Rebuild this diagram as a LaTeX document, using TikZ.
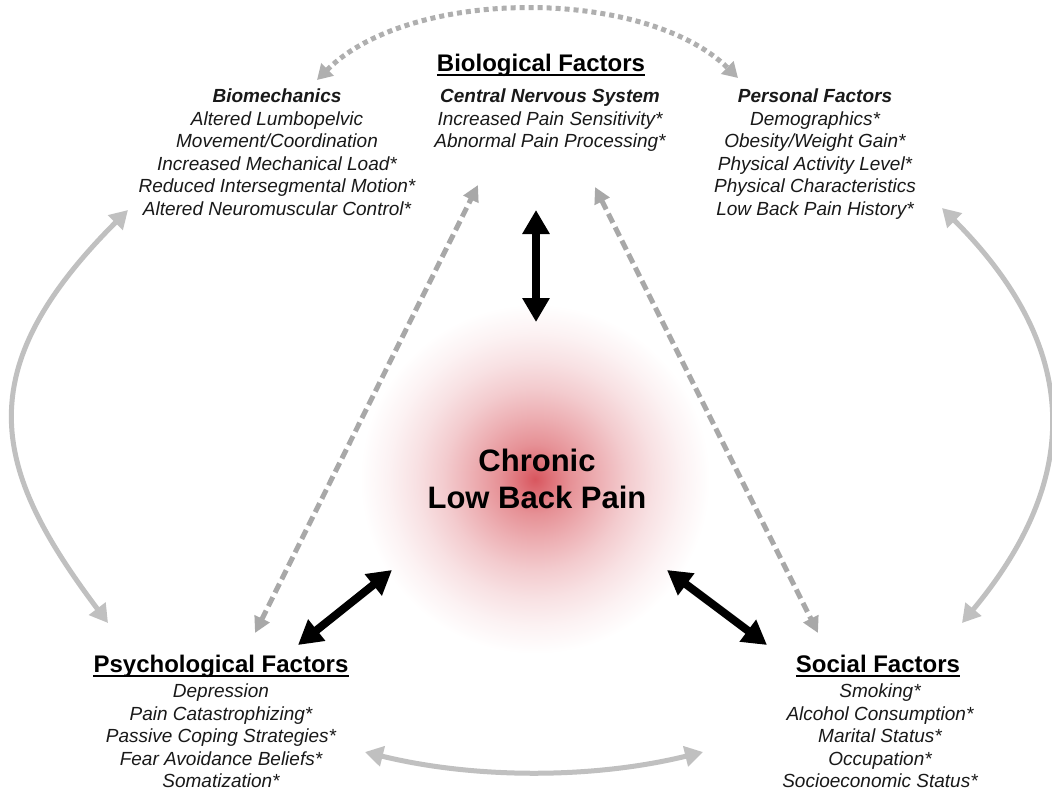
\documentclass[tikz,border=0pt]{standalone}
\usepackage{fontspec}
\setmainfont{Liberation Sans}
\usetikzlibrary{arrows.meta}
\definecolor{g0}{RGB}{216,86,94}
\definecolor{g1}{RGB}{222,110,117}
\definecolor{g2}{RGB}{230,145,150}
\definecolor{g3}{RGB}{237,175,179}
\definecolor{g4}{RGB}{243,203,206}
\definecolor{g5}{RGB}{248,225,227}
\definecolor{g6}{RGB}{252,242,243}
\definecolor{arcgray}{RGB}{192,192,192}
\definecolor{dashgray}{RGB}{168,168,168}
\definecolor{dotgray}{RGB}{175,175,175}
\pgfdeclareradialshading{glow}{\pgfpoint{0bp}{0bp}}{color(0bp)=(g0); color(2bp)=(g1); color(5bp)=(g2); color(9bp)=(g3); color(13bp)=(g4); color(17bp)=(g5); color(21bp)=(g6); color(25bp)=(white); color(50bp)=(white)}
\begin{document}
\begin{tikzpicture}[x=1pt,y=-1pt,
  item/.style={font=\fontsize{19}{22.5}\selectfont\itshape, align=center, inner sep=0pt, anchor=north, text=black!90},
  title/.style={font=\fontsize{24}{28}\selectfont\bfseries, inner sep=0pt, anchor=base},
  core/.style={font=\fontsize{31}{37}\selectfont\bfseries, align=center, inner sep=0pt},
  uline/.style={line width=2pt, black},
  blackarr/.style={{Triangle[width=26pt,length=24pt]}-{Triangle[width=26pt,length=24pt]}, line width=8pt, black},
  grayarr/.style={{Triangle[width=20pt,length=18pt]}-{Triangle[width=20pt,length=18pt]}, line width=5pt, arcgray},
  dasharr/.style={{Triangle[width=16pt,length=16pt]}-{Triangle[width=16pt,length=16pt]}, line width=5pt, dashgray, dash pattern=on 10pt off 5pt},
  dotarr/.style={{Triangle[width=17pt,length=15pt]}-{Triangle[width=17pt,length=15pt]}, line width=5pt, dotgray, dash pattern=on 5pt off 4pt}
]
\useasboundingbox[fill=white] (0,0) rectangle (1052,792);

% glow
\shade[shading=glow] (535,479) circle (175pt);

% titles
\node[title] (bio) at (541,72) {Biological Factors};
\node[title] (psy) at (221,672) {Psychological Factors};
\node[title] (soc) at (878,672) {Social Factors};
\foreach \t in {bio,psy,soc}
  \draw[uline] ([yshift=-3.5pt]\t.base west) -- ([yshift=-3.5pt]\t.base east);

% item blocks
\node[item] (biomech) at (277,89) {{\bfseries Biomechanics}\\Altered Lumbopelvic\\Movement/Coordination\\Increased Mechanical Load*\\Reduced Intersegmental Motion*\\Altered Neuromuscular Control*};
\node[item] (cns) at (550,89) {{\bfseries Central Nervous System}\\Increased Pain Sensitivity*\\Abnormal Pain Processing*};
\node[item] (pers) at (815,89) {{\bfseries Personal Factors}\\Demographics*\\Obesity/Weight Gain*\\Physical Activity Level*\\Physical Characteristics\\Low Back Pain History*};
\node[item] (psyitems) at (221,684) {Depression\\Pain Catastrophizing*\\Passive Coping Strategies*\\Fear Avoidance Beliefs*\\Somatization*};
\node[item] (socitems) at (880,684) {Smoking*\\Alcohol Consumption*\\Marital Status*\\Occupation*\\Socioeconomic Status*};

% core
\node[core] (core) at (537,479) {Chronic\\Low Back Pain};

% arrow end points
\coordinate (vt) at (536,210);
\coordinate (vb) at (536,322);
\coordinate (llA) at (298,645);
\coordinate (llB) at (392,570);
\coordinate (lrA) at (667,570);
\coordinate (lrB) at (767,645);
\coordinate (dlB) at (255,633);
\coordinate (dlT) at (478,185);
\coordinate (drT) at (595,187);
\coordinate (drB) at (818,633);
\coordinate (laT) at (128,210);
\coordinate (laB) at (108,623);
\coordinate (raT) at (942,208);
\coordinate (raB) at (962,623);
\coordinate (bL) at (365,752);
\coordinate (bR) at (703,752);
\coordinate (tL) at (317,80);
\coordinate (tR) at (738,78);

% black arrows
\draw[blackarr] (vt) -- (vb);
\draw[blackarr] (llA) -- (llB);
\draw[blackarr] (lrA) -- (lrB);

% dashed arrows
\draw[dasharr] (dlB) -- (dlT);
\draw[dasharr] (drT) -- (drB);

% gray arcs
\draw[grayarr] (laT) .. controls (-34,372) and (-7,470) .. (laB);
\draw[grayarr] (raT) .. controls (1090,356) and (1075,487) .. (raB);
\draw[grayarr] (bL) .. controls (475,779) and (593,779) .. (bR);

% dotted top arc
\draw[dotarr] (tL) .. controls (410,-13) and (645,-13) .. (tR);
\end{tikzpicture}
\end{document}
